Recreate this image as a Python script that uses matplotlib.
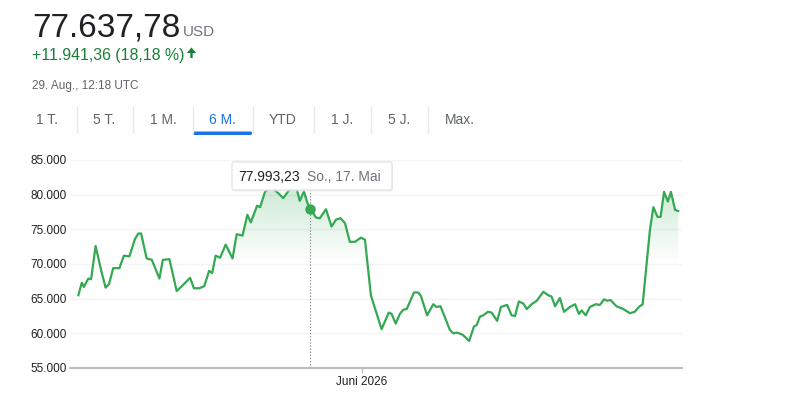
import matplotlib
matplotlib.use("Agg")
import matplotlib.pyplot as plt
import matplotlib.dates as mdates
from matplotlib.patches import FancyBboxPatch, FancyArrow
import numpy as np
import pandas as pd

plt.rcParams["font.family"] = ["Liberation Sans", "DejaVu Sans"]

# --- data -------------------------------------------------------------
start = pd.Timestamp("2026-03-10 17:00")
days = [0.1, 1.1, 1.7, 3.0, 3.8, 5.1, 6.7, 8.0, 9.0, 10.2,
        12.0, 13.3, 14.9, 16.5, 17.5, 18.3, 19.9, 21.4, 23.6, 24.6,
        26.5, 28.6, 29.9, 32.5, 33.6, 35.1, 36.6, 38.0, 38.9, 39.9,
        41.2, 42.8, 44.8, 46.0, 47.7, 49.1, 50.1, 51.9, 52.8, 54.2,
        55.9, 58.1, 59.5, 61.4, 63.4, 64.3, 65.5, 66.5, 67.3, 69.0,
        70.1, 71.9, 73.5, 74.8, 76.1, 77.4, 78.8, 80.3, 82.0, 83.2,
        84.9, 88.0, 90.1, 90.9, 92.1, 93.3, 94.3, 95.3, 97.4, 98.6,
        99.4, 101.2, 103.0, 103.9, 105.1, 107.8, 108.8, 109.9, 111.5, 113.4,
        114.8, 115.6, 116.5, 117.5, 118.8, 119.9, 121.5, 122.6, 124.4, 125.7,
        126.7, 127.8, 129.1, 130.1, 131.5, 133.0, 134.9, 136.3, 137.3, 138.3,
        139.7, 140.9, 142.6, 144.1, 145.2, 146.0, 147.2, 148.4, 150.1, 151.3,
        152.5, 153.4, 154.4, 156.1, 158.1, 160.0, 161.4, 162.6, 163.7, 165.8,
        166.8, 168.0, 168.9, 169.9, 171.0, 171.9, 173.1, 174.0]
price_k = [65.5, 67.3, 66.7, 67.9, 67.8, 72.6, 69.1, 66.6, 67.1, 69.4,
           69.4, 71.2, 71.1, 73.6, 74.4, 74.4, 70.8, 70.6, 67.9, 70.6,
           70.7, 66.1, 66.7, 68.0, 66.5, 66.5, 66.8, 69.0, 68.7, 71.2,
           70.9, 72.8, 70.8, 74.3, 74.1, 77.1, 76.0, 78.4, 78.2, 80.4,
           81.1, 80.2, 79.5, 80.8, 80.8, 79.1, 80.5, 78.8, 77.99323, 76.7,
           76.6, 77.9, 75.4, 76.4, 76.6, 75.9, 73.2, 73.2, 73.8, 73.5,
           65.5, 60.6, 63.0, 62.8, 61.4, 62.8, 63.4, 63.5, 65.9, 65.9,
           65.4, 62.6, 64.2, 63.8, 63.9, 60.5, 60.0, 60.1, 59.8, 58.9,
           61.0, 61.2, 62.4, 62.6, 63.1, 63.0, 61.8, 63.8, 64.1, 62.6,
           62.5, 64.6, 64.3, 63.5, 64.2, 64.7, 66.0, 65.5, 65.3, 63.9,
           65.1, 63.1, 63.8, 64.2, 62.8, 63.3, 62.6, 63.8, 64.2, 64.1,
           64.9, 64.7, 64.8, 63.9, 63.5, 62.9, 63.1, 63.8, 64.2, 74.9,
           78.2, 76.8, 76.8, 80.4, 79.0, 80.4, 77.8, 77.64]
y_ticks = [55000, 60000, 65000, 70000, 75000, 80000, 85000]
x_tick_date = "2026-06-01"
x_tick_label = "Juni 2026"
hover_idx = 48
hover_value = "77.993,23"
hover_date = "So., 17. Mai"

last_price = "77.637,78"
currency = "USD"
change = "+11.941,36 (18,18 %)"
timestamp = "29. Aug., 12:18 UTC"
tabs = ["1 T.", "5 T.", "1 M.", "6 M.", "YTD", "1 J.", "5 J.", "Max."]
active_tab = "6 M."

GREEN = "#34a853"
W, H = 805, 400

x = mdates.date2num(start + pd.to_timedelta(days, unit="D"))
y = np.array(price_k) * 1000

fig = plt.figure(figsize=(W / 100, H / 100), dpi=100)

# main chart axes (pixel box 70..682 x 160..368)
ax = fig.add_axes([70 / W, 1 - 368 / H, 612 / W, 208 / H])
x0 = mdates.date2num(start) - 2.32
x1 = mdates.date2num(start) + 175.1
ax.set_xlim(x0, x1)
ax.set_ylim(55000, 85000)

# gradient fill under the line
poly = ax.fill_between(x, y, 55000, color="none", lw=0)
vals = np.linspace(55000, 85000, 300)
alpha = np.clip((vals - 70000) / 10000, 0, 1) * 0.22
grad = np.zeros((300, 1, 4))
grad[:, 0, :3] = matplotlib.colors.to_rgb(GREEN)
grad[:, 0, 3] = alpha
im = ax.imshow(grad, extent=[x0, x1, 55000, 85000], origin="lower",
               aspect="auto", zorder=1, interpolation="bilinear")
im.set_clip_path(poly.get_paths()[0], transform=ax.transData)

ax.plot(x, y, color=GREEN, lw=1.6, zorder=3, solid_joinstyle="round")
ax.vlines(x[hover_idx], 55000, 80700, colors="#8a8a8a", lw=0.8,
          linestyles=(0, (1.2, 1.6)), zorder=2)
ax.plot(x[hover_idx], y[hover_idx], "o", color=GREEN, ms=6.5, zorder=4)

ax.set_yticks(y_ticks)
ax.set_yticklabels(["{:,}".format(v).replace(",", ".") for v in y_ticks])
ax.yaxis.grid(True, color="#f3f3f3", lw=1)
ax.set_axisbelow(True)
ax.set_xticks([mdates.date2num(pd.Timestamp(x_tick_date))])
ax.set_xticklabels([x_tick_label])
ax.tick_params(axis="y", length=0, pad=2.5, labelsize=8.5, labelcolor="#202124")
ax.tick_params(axis="x", length=3.5, width=1, color="#bdbdbd", pad=2,
               labelsize=8.5, labelcolor="#202124")
for s in ["left", "right", "top"]:
    ax.spines[s].set_visible(False)
ax.spines["bottom"].set_color("#bdbdbd")
ax.spines["bottom"].set_linewidth(1.5)

# overlay in pixel coordinates for header, tabs and tooltip
ov = fig.add_axes([0, 0, 1, 1])
ov.set_xlim(0, W)
ov.set_ylim(H, 0)
ov.axis("off")
ov.set_zorder(5)

ov.text(32, 36.5, last_price, fontsize=24, color="#202124", va="baseline")
ov.text(183, 36.5, currency, fontsize=11, color="#70757a", va="baseline")
ov.text(32, 60, change, fontsize=11.4, color="#188038", va="baseline")
ov.add_patch(FancyArrow(191.5, 58, 0, -10.5, width=2.4, head_width=9.5,
                        head_length=5.5, length_includes_head=True,
                        fc="#188038", ec="none"))
ov.text(32, 89.5, timestamp, fontsize=8.5, color="#5f6368", va="baseline")

tab_x = [36, 93, 150, 209, 269, 331, 388, 445]
for tx, label in zip(tab_x, tabs):
    ov.text(tx, 124.5, label, fontsize=10,
            color="#1a73e8" if label == active_tab else "#5f6368",
            va="baseline")
for sx in [77, 133, 193, 253, 314, 371, 428]:
    ov.plot([sx, sx], [107, 133], color="#e8eaed", lw=1)
ov.add_patch(FancyBboxPatch((193, 131.5), 59, 3.5,
                            boxstyle="round,pad=0,rounding_size=1.5",
                            fc="#1a73e8", ec="none"))

# tooltip
ov.add_patch(FancyBboxPatch((233, 163.5), 160, 28,
                            boxstyle="round,pad=0,rounding_size=2",
                            fc="#e6e6e6", ec="none", alpha=0.6))
ov.add_patch(FancyBboxPatch((232, 162), 160, 28,
                            boxstyle="round,pad=0,rounding_size=2",
                            fc="white", ec="#e0e0e0", lw=0.8))
ov.text(238, 177, hover_value, fontsize=10, color="#202124", va="center")
ov.text(307, 177, hover_date, fontsize=10, color="#70757a", va="center")

fig.savefig("out.png", dpi=100)
